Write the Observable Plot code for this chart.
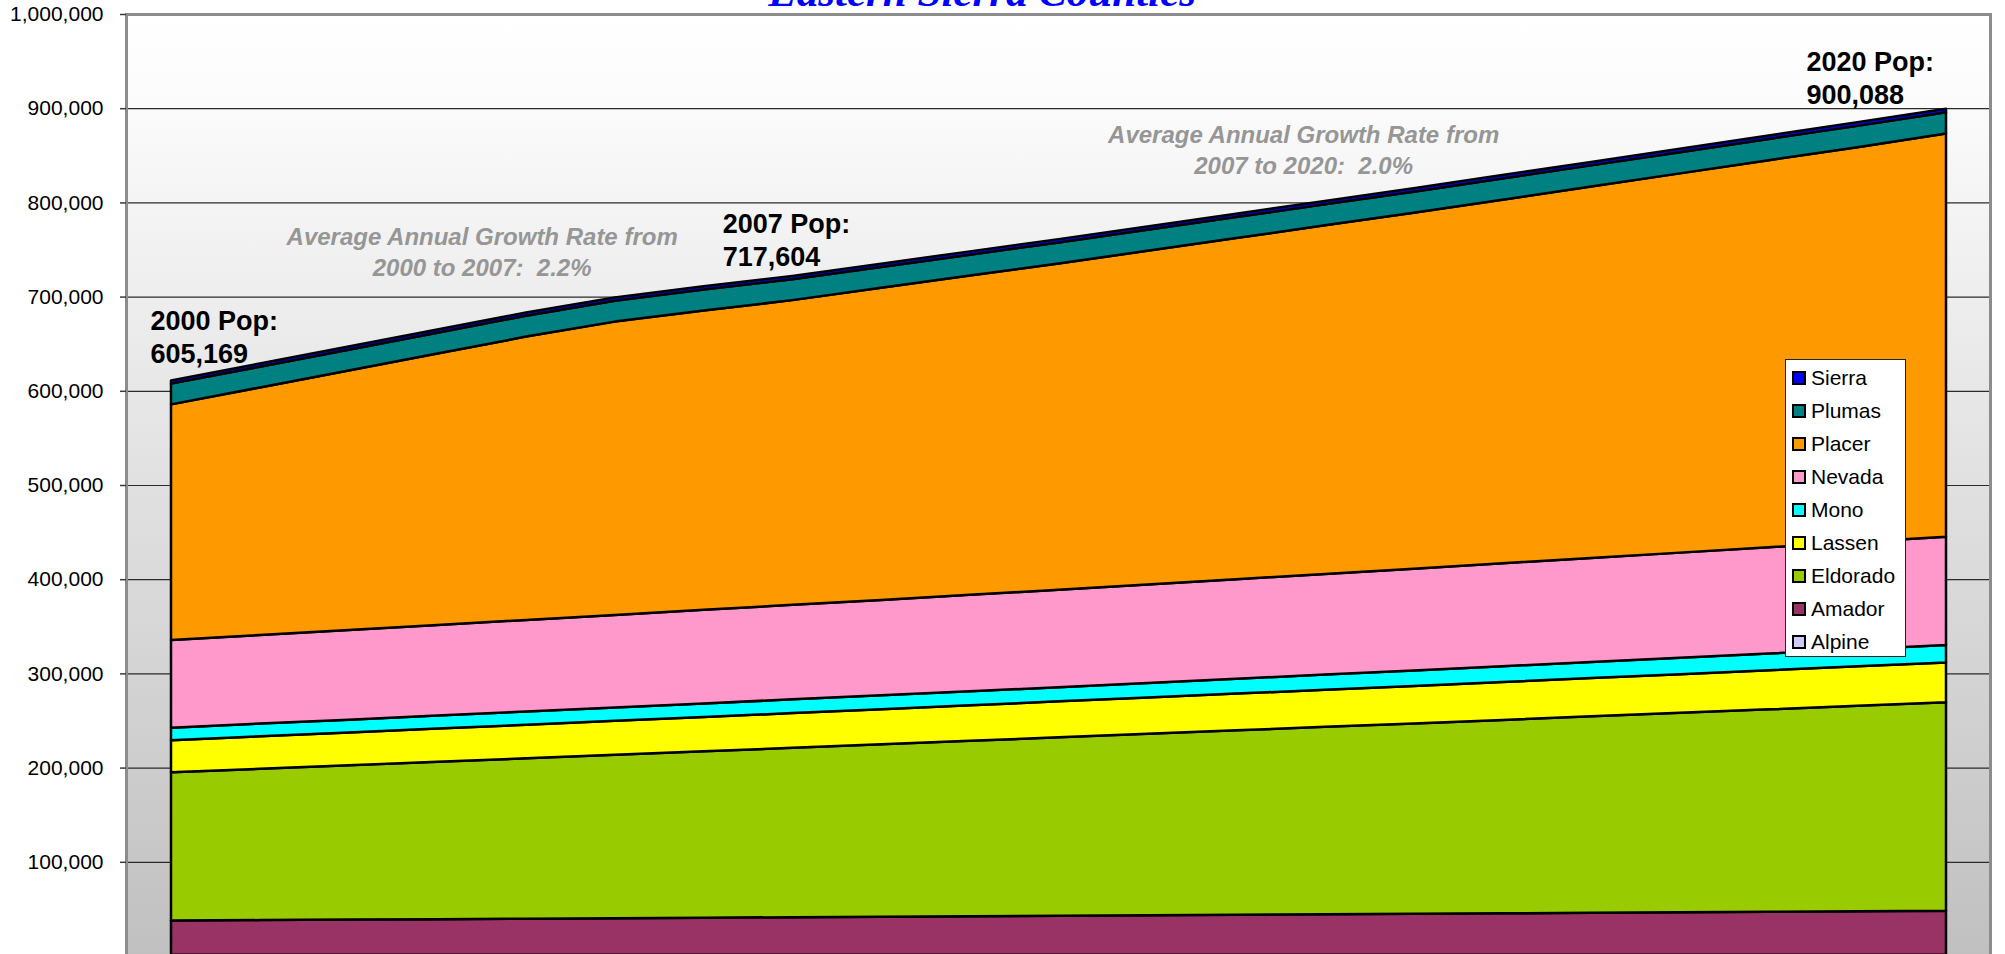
<!DOCTYPE html>
<html>
<head>
<meta charset="utf-8">
<script src="https://cdn.jsdelivr.net/npm/d3@7"></script>
<script src="https://cdn.jsdelivr.net/npm/@observablehq/plot@0.6"></script>
<style>
html, body { margin: 0; padding: 0; background: #fff; overflow: hidden; }
#wrap { position: relative; width: 2005px; height: 954px; overflow: hidden; }
#title { position: absolute; left: 982px; top: -30px; transform: translateX(-50%);
  font: italic bold 43px "Liberation Serif", "Times New Roman", serif; color: #0000ff;
  line-height: 43px; white-space: nowrap; }
#legend { position: absolute; left: 1785px; top: 359px; width: 121px; height: 298px;
  border: 1px solid #222; background: #fff; box-sizing: border-box; padding-top: 1px;
  font: 21px "Liberation Sans", Arial, sans-serif; color: #000; }
.item { height: 33.1px; display: flex; align-items: center; }
.sw { width: 10px; height: 10px; border: 2px solid #000; margin-left: 6px; margin-right: 5px; flex: none; }
</style>
</head>
<body>
<div id="wrap"></div>
<script>
// ---- data ----
const years = [2000,2001,2002,2003,2004,2005,2006,2007,2008,2009,2010,2011,2012,2013,2014,2015,2016,2017,2018,2019,2020];
// stacking order, bottom to top
const counties = ["Alpine","Amador","Eldorado","Lassen","Mono","Nevada","Placer","Plumas","Sierra"];
const countyColors = ["#ccccff","#993366","#99cc00","#ffff00","#00ffff","#ff99cc","#ff9900","#008080","#0000ff"];

const alpine   = [1200,1210,1220,1230,1240,1250,1260,1270,1280,1300,1310,1320,1340,1350,1370,1380,1400,1410,1430,1450,1470];
const amador   = [36400,36900,37400,37900,38400,38900,39400,39900,40400,40900,41400,41900,42400,42900,43400,43900,44500,45000,45500,46100,46600];
const eldorado = [157400,160600,163800,167000,170200,173400,176600,179800,183000,186200,189500,192700,195800,199000,202100,205300,208500,211700,214900,218000,221200];
const lassen   = [34100,34500,34900,35300,35700,36100,36500,36900,37300,37700,38100,38500,39000,39400,39800,40300,40700,41100,41600,42000,42400];
const mono     = [13300,13500,13600,13800,14000,14200,14400,14600,14700,14900,15100,15400,15700,16100,16400,16700,17100,17400,17700,18100,18400];
const nevada   = [93100,94100,95100,96200,97200,98200,99300,100300,101300,102400,103400,104600,105700,106900,108100,109300,110400,111600,112800,113900,115100];
const placer   = [250100,262800,275600,288100,300800,311400,317900,323500,331300,338900,346400,354200,362200,370000,377800,386000,394300,402600,410900,419100,427900];
const plumas   = [22000,22000,22000,22100,22100,22100,22100,22200,22200,22200,22200,22300,22300,22300,22400,22400,22400,22500,22500,22600,22600];
const sierra   = [3400,3400,3400,3400,3400,3500,3500,3500,3500,3500,3600,3600,3600,3600,3600,3700,3700,3700,3700,3800,3800];

// tick labels visible in the picture (the 0 label falls below the cropped bottom edge)
const yTicks = [100000,200000,300000,400000,500000,600000,700000,800000,900000,1000000];

const popYears  = [2000, 2007, 2020];
const popValues = [605169, 717604, 900088];
const popTexts  = ["2000 Pop:\n605,169", "2007 Pop:\n717,604", "2020 Pop:\n900,088"];

const growthPeriods = [[2000, 2007], [2007, 2020]];
const growthTexts = ["Average Annual Growth Rate from\n2000 to 2007:\u00a0 2.2%",
                     "Average Annual Growth Rate from\n2007 to 2020:\u00a0 2.0%"];

const titleText = "Eastern Sierra Counties";

// ---- build table ----
const seriesByCounty = {Alpine: alpine, Amador: amador, Eldorado: eldorado, Lassen: lassen, Mono: mono,
  Nevada: nevada, Placer: placer, Plumas: plumas, Sierra: sierra};
const rows = counties.flatMap(c => years.map((yr, i) => ({year: yr, county: c, value: seriesByCounty[c][i]})));
const popLabels = popYears.map((yr, i) => ({year: yr, value: popValues[i], text: popTexts[i]}));
const growthLabels = growthPeriods.map((p, i) => ({year: (p[0] + p[1]) / 2, value: popValues[i + 1], text: growthTexts[i]}));

const defsMark = () => {
  const defs = document.createElementNS("http://www.w3.org/2000/svg", "defs");
  defs.innerHTML = '<linearGradient id="wallgrad" x1="0" y1="0" x2="0" y2="1">' +
    '<stop offset="0" stop-color="#ffffff"/><stop offset="0.08" stop-color="#fcfcfc"/><stop offset="1" stop-color="#c0c0c0"/></linearGradient>';
  return defs;
};

const popStyle = {x: "year", y: "value", text: "text", fontSize: 27, fontWeight: "bold", fill: "#000",
  textAnchor: "start", lineAnchor: "bottom", lineHeight: 1.22};
const growthStyle = {x: "year", y: "value", text: "text", fontSize: 24, fontWeight: "bold", fontStyle: "italic",
  fill: "#969696", textAnchor: "middle", lineAnchor: "bottom", lineHeight: 1.29};

const chart = Plot.plot({
  width: 2005,
  height: 958,
  marginTop: 14,
  marginBottom: 2,
  marginLeft: 126,
  marginRight: 15,
  style: {background: "transparent", fontFamily: "'Liberation Sans', Arial, sans-serif", overflow: "visible"},
  x: {domain: [2000, 2020], range: [171, 1946], axis: null},
  y: {domain: [0, 1000000], axis: null},
  color: {domain: counties, range: countyColors},
  marks: [
    defsMark,
    Plot.frame({fill: "url(#wallgrad)"}),
    Plot.ruleY(yTicks.filter(d => d < 1000000), {stroke: "#2a2a2a", strokeWidth: 1.2}),
    Plot.areaY(rows, Plot.stackY({x: "year", y: "value", z: "county", fill: "county", order: counties,
      stroke: "#000", strokeWidth: 2.5, strokeLinejoin: "round"})),
    Plot.frame({stroke: "#8c8c8c", strokeWidth: 3}),
    Plot.axisY({ticks: yTicks, tickFormat: d3.format(","), tickSize: 6, tickPadding: 17, fontSize: 21,
      stroke: "#3a3a3a", fill: "#000", strokeWidth: 1.5, line: true, label: null}),
    Plot.text([popLabels[0]], {...popStyle, dx: -21, dy: -23}),
    Plot.text([popLabels[1]], {...popStyle, dx: -70, dy: -15}),
    Plot.text([popLabels[2]], {...popStyle, dx: -140, dy: -5}),
    Plot.text([growthLabels[0]], {...growthStyle, dx: 0, dy: -5}),
    Plot.text([growthLabels[1]], {...growthStyle, dx: -66, dy: 65})
  ]
});

const wrap = document.getElementById("wrap");
wrap.appendChild(chart);

const title = document.createElement("div");
title.id = "title";
title.textContent = titleText;
wrap.appendChild(title);

const legend = document.createElement("div");
legend.id = "legend";
counties.slice().reverse().forEach(c => {
  const item = document.createElement("div");
  item.className = "item";
  const sw = document.createElement("div");
  sw.className = "sw";
  sw.style.background = countyColors[counties.indexOf(c)];
  const lab = document.createElement("span");
  lab.textContent = c;
  item.appendChild(sw);
  item.appendChild(lab);
  legend.appendChild(item);
});
wrap.appendChild(legend);
</script>
</body>
</html>
